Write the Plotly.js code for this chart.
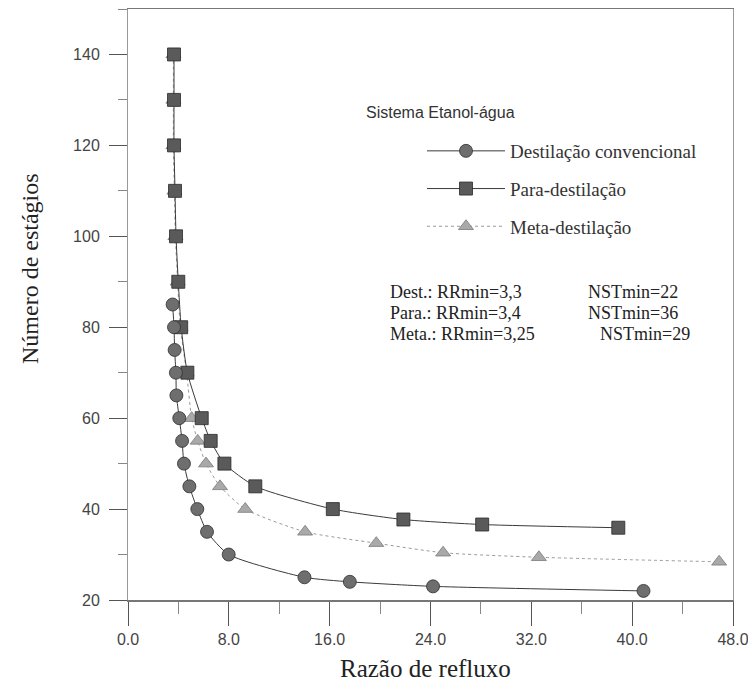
<!DOCTYPE html>
<html>
<head>
<meta charset="utf-8">
<script src="https://cdn.plot.ly/plotly-3.0.1.min.js"></script>
<style>html,body{margin:0;padding:0;background:#fff;}#chart{width:748px;height:681px;}</style>
</head>
<body>
<div id="chart"></div>
<script>
// ---- data ----
var seriesNames = ["Destilação convencional", "Para-destilação", "Meta-destilação"];

var destX = [3.54, 3.65, 3.7, 3.8, 3.84, 4.07, 4.29, 4.44, 4.87, 5.5, 6.27, 7.99, 14.0, 17.6, 24.2, 40.9];
var destY = [85, 80, 75, 70, 65, 60, 55, 50, 45, 40, 35, 30, 25, 24, 23, 22];

var paraX = [3.65, 3.65, 3.65, 3.73, 3.81, 3.99, 4.22, 4.71, 5.85, 6.56, 7.65, 10.1, 16.25, 21.85, 28.1, 38.9];
var paraY = [140, 130, 120, 110, 100, 90, 80, 70, 60, 55, 50, 45, 40, 37.7, 36.6, 35.9];

var metaX = [3.6, 3.6, 3.6, 3.68, 3.76, 3.94, 4.15, 4.65, 5.05, 5.53, 6.19, 7.3, 9.3, 14.05, 19.7, 25.0, 32.6, 46.9];
var metaY = [140, 130, 120, 110, 100, 90, 80, 70, 60, 55, 50, 45, 40, 35, 32.5, 30.4, 29.4, 28.4];

var xTickVals = [0, 8, 16, 24, 32, 40, 48];
var yTickVals = [20, 40, 60, 80, 100, 120, 140];

var legendTitle = "Sistema Etanol-água";
var xTitle = "Razão de refluxo";
var yTitle = "Número de estágios";
var noteLeft = ["Dest.: RRmin=3,3", "Para.: RRmin=3,4", "Meta.: RRmin=3,25"];
var noteRight = ["NSTmin=22", "NSTmin=36", "NSTmin=29"];

// ---- traces ----
var serif = "Liberation Serif, Times New Roman, serif";
var sans = "Liberation Sans, Arial, sans-serif";

var meta = {
  x: metaX, y: metaY, name: seriesNames[2], type: "scatter", mode: "lines+markers",
  legendrank: 3, legendgroup: "c",
  line: {color: "#9a9a9a", width: 1, dash: "dot", shape: "spline", smoothing: 0.6},
  marker: {symbol: "triangle-up", size: 13, color: "#a9a9a9", line: {color: "#7a7a7a", width: 0.8}}
};
var para = {
  x: paraX, y: paraY, name: seriesNames[1], type: "scatter", mode: "lines+markers",
  legendrank: 2, legendgroup: "b",
  line: {color: "#3a3a3a", width: 1, shape: "spline", smoothing: 0.6},
  marker: {symbol: "square", size: 13, color: "#5a5a5a", line: {color: "#2a2a2a", width: 0.8}}
};
var dest = {
  x: destX, y: destY, name: seriesNames[0], type: "scatter", mode: "lines+markers",
  legendrank: 1, legendgroup: "a",
  line: {color: "#3a3a3a", width: 1, shape: "spline", smoothing: 0.6},
  marker: {symbol: "circle", size: 13, color: "#6e6e6e", line: {color: "#2e2e2e", width: 0.8}}
};

// ---- annotations ----
function px2paperY(py) { return (600 - py) / 591; }
function px2paperX(px) { return (px - 128) / 605; }

var annotations = [
  {text: legendTitle, xref: "paper", yref: "paper", x: px2paperX(440), y: px2paperY(112),
   xanchor: "center", yanchor: "middle", showarrow: false, font: {family: sans, size: 16, color: "#333"}},
  {text: xTitle, xref: "paper", yref: "paper", x: px2paperX(425), y: px2paperY(668),
   xanchor: "center", yanchor: "middle", showarrow: false, font: {family: serif, size: 25, color: "#222"}},
  {text: yTitle, xref: "paper", yref: "paper", x: px2paperX(30), y: px2paperY(269),
   xanchor: "center", yanchor: "middle", textangle: -90, showarrow: false, font: {family: serif, size: 24, color: "#222"}}
];
var noteYs = [292, 313, 334];
var noteRightX = [586, 586, 598];
for (var i = 0; i < noteLeft.length; i++) {
  annotations.push({text: noteLeft[i], xref: "paper", yref: "paper", x: px2paperX(388), y: px2paperY(noteYs[i]),
    xanchor: "left", yanchor: "middle", showarrow: false, font: {family: serif, size: 18, color: "#222"}});
  annotations.push({text: noteRight[i], xref: "paper", yref: "paper", x: px2paperX(noteRightX[i]), y: px2paperY(noteYs[i]),
    xanchor: "left", yanchor: "middle", showarrow: false, font: {family: serif, size: 18, color: "#222"}});
}

var layout = {
  width: 748, height: 681,
  margin: {l: 128, r: 15, t: 9, b: 81, pad: 0},
  paper_bgcolor: "#fff", plot_bgcolor: "#fff",
  showlegend: true,
  legend: {
    x: px2paperX(422), y: px2paperY(132), xanchor: "left", yanchor: "top",
    bgcolor: "rgba(0,0,0,0)", borderwidth: 0,
    font: {family: serif, size: 19, color: "#333"},
    itemwidth: 78, tracegroupgap: 10, traceorder: "grouped"
  },
  xaxis: {
    range: [0, 48], tickvals: xTickVals, tickformat: ".1f",
    ticks: "outside", ticklen: 24, tickcolor: "#555", tickwidth: 1,
    minor: {dtick: 4, tick0: 0, ticks: "outside", ticklen: 12, tickcolor: "#888", showgrid: false},
    showline: true, linecolor: "#777", linewidth: 1.5, mirror: true,
    showgrid: false, zeroline: false, ticklabeloverflow: "allow",
    tickfont: {family: sans, size: 16, color: "#444"}
  },
  yaxis: {
    range: [20, 150], tickvals: yTickVals,
    ticks: "outside", ticklen: 18, tickcolor: "#555", tickwidth: 1,
    minor: {dtick: 10, tick0: 20, ticks: "outside", ticklen: 9, tickcolor: "#888", showgrid: false},
    showline: true, linecolor: "#999", linewidth: 1, mirror: true,
    showgrid: false, zeroline: false, ticklabelstandoff: 6,
    tickfont: {family: sans, size: 16, color: "#444"}
  },
  annotations: annotations
};

Plotly.newPlot("chart", [meta, para, dest], layout, {displayModeBar: false, staticPlot: true});
</script>
</body>
</html>
